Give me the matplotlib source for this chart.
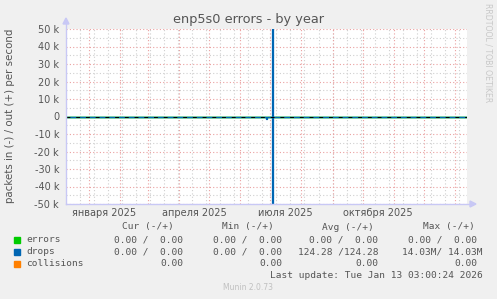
import matplotlib
matplotlib.use("Agg")
import matplotlib.pyplot as plt
import matplotlib.dates as mdates
import numpy as np
from datetime import datetime, timedelta

# ---- data ----
title = "enp5s0 errors - by year"
ylabel = "packets in (-) / out (+) per second"
range_start = datetime(2024, 12, 9, 3, 0, 24)
range_end = datetime(2026, 1, 13, 3, 0, 24)

drops_dates = ["2024-12-09", "2025-06-27", "2025-06-28", "2025-07-03", "2025-07-04", "2026-01-13"]
drops_out = [0, 0, 0, 14.03e6, 0, 0]
drops_in = [0, -1500, 0, -14.03e6, 0, 0]

errors_dates = ["2024-12-09", "2026-01-13"]
errors_out = [0, 0]
errors_in = [0, 0]

ytick_values = [-50000, -40000, -30000, -20000, -10000, 0, 10000, 20000, 30000, 40000, 50000]
ytick_labels = ["-50 k", "-40 k", "-30 k", "-20 k", "-10 k", "0", "10 k", "20 k", "30 k", "40 k", "50 k"]
xlabel_months = ["2025-01-16", "2025-04-16", "2025-07-16", "2025-10-16"]
xlabel_texts = ["января 2025", "апреля 2025", "июля 2025", "октября 2025"]

legend_names = ["errors", "drops", "collisions"]
legend_colors = ["#00cc00", "#0066b3", "#ff8000"]
cur_vals = ["0.00 /  0.00", "0.00 /  0.00", "0.00"]
min_vals = ["0.00 /  0.00", "0.00 /  0.00", "0.00"]
avg_vals = ["0.00 /  0.00", "124.28 /124.28", "0.00"]
max_vals = ["0.00 /  0.00", "14.03M/ 14.03M", "0.00"]
headers = ["Cur (-/+)", "Min (-/+)", "Avg (-/+)", "Max (-/+)"]
last_update = "Last update: Tue Jan 13 03:00:24 2026"
footer = "Munin 2.0.73"

# ---- figure ----
W, H = 497, 299
fig = plt.figure(figsize=(W / 100, H / 100), dpi=100, facecolor="#f0f0f0")
L, R, T, B = 66, 467, 29, 204
ax = fig.add_axes([L / W, 1 - B / H, (R - L) / W, (B - T) / H])
ax.set_facecolor("white")
for s in ax.spines.values():
    s.set_visible(False)

x0 = mdates.date2num(range_start)
x1 = mdates.date2num(range_end)
ax.set_xlim(x0, x1)
ax.set_ylim(-50000, 50000)

# grid
major_grid = "#eaa0a0"
minor_grid = "#cfcfcf"
dot = (0, (1, 2))
for v in range(-45000, 50000, 10000):
    ax.axhline(v, color=minor_grid, lw=0.8, ls=dot, zorder=1)
for v in ytick_values:
    if v != 0:
        ax.axhline(v, color=major_grid, lw=0.8, ls=dot, zorder=1.5)

d = datetime(2024, 12, 23)
minor_x = []
while d < range_end:
    minor_x.append(mdates.date2num(d))
    d += timedelta(days=14)
major_x = []
y, m = 2025, 1
while datetime(y, m, 1) < range_end:
    major_x.append(mdates.date2num(datetime(y, m, 1)))
    m += 1
    if m > 12:
        m, y = 1, y + 1
for xv in minor_x:
    ax.axvline(xv, color=minor_grid, lw=0.8, ls=dot, zorder=1)
for xv in major_x:
    ax.axvline(xv, color=major_grid, lw=0.8, ls=dot, zorder=1.5)

# series
ed = mdates.date2num([datetime.fromisoformat(s) for s in errors_dates])
ax.plot(ed, errors_out, color=legend_colors[0], lw=1.0, zorder=3)
ax.plot(ed, errors_in, color=legend_colors[0], lw=1.0, zorder=3)
dd = mdates.date2num([datetime.fromisoformat(s) for s in drops_dates])
ax.step(dd, drops_out, where="post", color=legend_colors[1], lw=0.9, zorder=4)
ax.step(dd, drops_in, where="post", color=legend_colors[1], lw=0.9, zorder=4)
ax.axhline(0, color="black", lw=0.7, ls=(0, (4, 6)), zorder=5)

# ticks
ax.set_yticks(ytick_values)
ax.set_yticklabels(ytick_labels)
ax.set_xticks(mdates.date2num([datetime.fromisoformat(s) for s in xlabel_months]))
ax.set_xticklabels(xlabel_texts)
ax.tick_params(axis="both", length=0, labelsize=7, labelcolor="#555555", pad=3)
ax.tick_params(axis="y", pad=5)

# axis lines with arrows
axis_c = "#c8c8f5"
fig.add_artist(plt.Line2D([L / W, L / W], [1 - B / H, 1 - 22 / H], color=axis_c, lw=1, transform=fig.transFigure))
fig.add_artist(plt.Line2D([L / W, 472 / W], [1 - B / H, 1 - B / H], color=axis_c, lw=1, transform=fig.transFigure))
fig.add_artist(plt.Polygon([[(L - 3) / W, 1 - 24 / H], [(L + 3) / W, 1 - 24 / H], [L / W, 1 - 18 / H]],
                           closed=True, color=axis_c, transform=fig.transFigure))
fig.add_artist(plt.Polygon([[470 / W, 1 - (B - 3) / H], [470 / W, 1 - (B + 3) / H], [476 / W, 1 - B / H]],
                           closed=True, color=axis_c, transform=fig.transFigure))

# texts
fig.text(249 / W, 1 - 19 / H, title, ha="center", va="center", fontsize=9.3, color="#555555")
fig.text(10 / W, 1 - 116 / H, ylabel, ha="center", va="center", rotation=90, fontsize=7.4, color="#555555")
fig.text(488 / W, 1 - 53 / H, "RRDTOOL / TOBI OETIKER", ha="center", va="center", rotation=270,
         fontsize=5.6, color="#c8c8c8")

mono = "DejaVu Sans Mono"
fs = 6.8
tc = "#555555"
for hx, h in zip([148, 248, 348, 449], headers):
    fig.text(hx / W, 1 - 227 / H, h, ha="center", va="center", family=mono, fontsize=fs, color=tc)
rows_y = [240, 252, 264]
cols_r = [183, 282, 378, 477]
for i, (name, col) in enumerate(zip(legend_names, legend_colors)):
    yy = 1 - rows_y[i] / H
    fig.add_artist(plt.Rectangle((14 / W, yy - 3 / H), 6 / W, 6 / H, color=col, transform=fig.transFigure))
    fig.text(26 / W, yy, name, ha="left", va="center", family=mono, fontsize=fs, color=tc)
    for cx, vals in zip(cols_r, [cur_vals, min_vals, avg_vals, max_vals]):
        xr = cx + 6 if (vals is max_vals and i == 1) else cx
        fig.text(xr / W, yy, vals[i], ha="right", va="center", family=mono, fontsize=fs, color=tc)
fig.text(483 / W, 1 - 276 / H, last_update, ha="right", va="center", family=mono, fontsize=fs, color=tc)
fig.text(248 / W, 1 - 288 / H, footer, ha="center", va="center", fontsize=5.5, color="#c0c0c0")

fig.savefig("out.png", dpi=100, facecolor=fig.get_facecolor())
